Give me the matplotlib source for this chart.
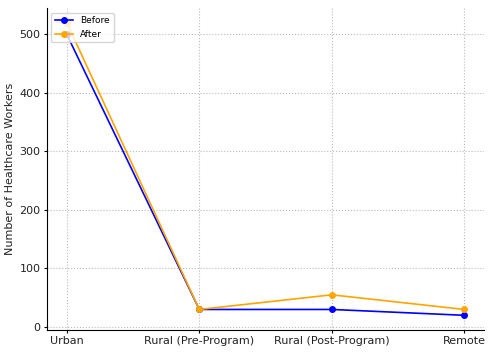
import matplotlib
matplotlib.use("Agg")
import matplotlib.pyplot as plt

categories = ["Urban", "Rural (Pre-Program)", "Rural (Post-Program)", "Remote"]
before = [500, 30, 30, 20]
after = [520, 30, 55, 30]

fig = plt.figure(figsize=(4.94, 3.54), dpi=100)
ax = fig.add_axes([0.095, 0.068, 0.885, 0.909])
ax.plot(categories, before, marker='o', color='blue', label='Before', linewidth=1.2, markersize=4)
ax.plot(categories, after, marker='o', color='orange', label='After', linewidth=1.2, markersize=4)
ax.set_ylabel("Number of Healthcare Workers", fontsize=8, color='#222222', labelpad=3)
ax.tick_params(labelsize=8, length=2.5, pad=2, labelcolor='#222222')
ax.grid(True, linestyle=':', color='#bbbbbb', linewidth=0.8)
ax.legend(loc='upper left', fontsize=6.5)
for s in ['top', 'right']:
    ax.spines[s].set_visible(False)
fig.savefig("out.png", dpi=100)
